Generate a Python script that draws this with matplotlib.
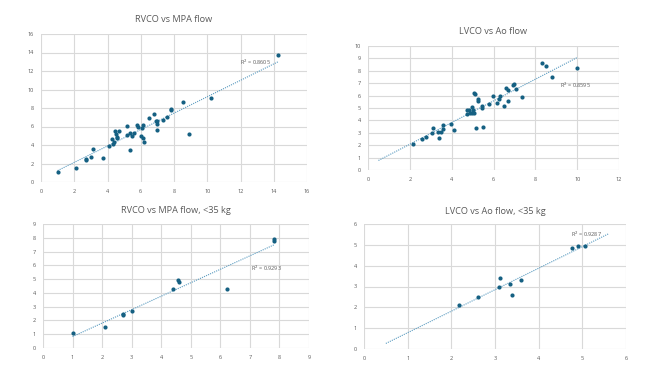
"""
Cardiac output (CO) vs phase-contrast flow — four scatter panels with
linear trendlines, laid out like the Excel original.
"""

import numpy as np
import matplotlib
matplotlib.use("Agg")
import matplotlib.pyplot as plt

plt.rcParams["font.family"] = ["Open Sans", "DejaVu Sans"]

# ── data ─────────────────────────────────────────────────────────────────────

rv_mpa_x = [1.0, 2.1, 2.7, 2.7, 3.0, 3.1, 3.7, 4.1, 4.3, 4.35, 4.4, 4.45, 4.5,
            4.55, 4.6, 4.7, 5.2, 5.2, 5.35, 5.35, 5.5, 5.6, 5.75, 5.85, 6.0,
            6.1, 6.15, 6.15, 6.2, 6.5, 6.8, 6.9, 6.95, 6.95, 6.95, 7.35, 7.55,
            7.8, 7.8, 8.55, 8.9, 10.2, 14.25]
rv_mpa_y = [1.1, 1.5, 2.4, 2.5, 2.7, 3.6, 2.6, 3.9, 4.6, 4.1, 4.3, 5.5, 5.2,
            4.9, 4.8, 5.5, 6.1, 5.1, 5.3, 3.5, 5.0, 5.3, 6.2, 6.0, 5.0,
            5.8, 6.2, 4.8, 4.3, 6.9, 7.4, 6.6, 6.6, 6.3, 5.6, 6.7, 7.0,
            7.8, 7.9, 8.6, 5.2, 9.1, 13.7]

lv_ao_x = [2.15, 2.6, 2.75, 3.05, 3.1, 3.33, 3.38, 3.5, 3.58, 3.6, 3.95, 4.1,
           4.73, 4.75, 4.85, 4.9, 4.96, 4.98, 5.02, 5.05, 5.08, 5.12, 5.15,
           5.25, 5.26, 5.45, 5.47, 5.5, 5.8, 5.96, 6.19, 6.25, 6.3, 6.52,
           6.62, 6.68, 6.71, 6.92, 6.97, 7.07, 7.35, 8.33, 8.53, 8.8, 10.0]
lv_ao_y = [2.1, 2.5, 2.7, 3.0, 3.4, 3.1, 2.6, 3.1, 3.3, 3.6, 3.7, 3.2,
           4.8, 4.5, 4.85, 4.6, 5.1, 4.6, 4.85, 4.6, 6.2, 6.1, 3.4,
           5.7, 5.6, 5.2, 5.0, 3.5, 5.3, 6.0, 5.4, 5.7, 6.0, 5.2,
           6.6, 5.6, 6.45, 6.85, 6.9, 6.5, 5.9, 8.6, 8.4, 7.5, 8.2]

rv_small_x = [1.0, 2.1, 2.7, 2.7, 3.0, 4.4, 4.57, 4.6, 6.22, 7.8, 7.82]
rv_small_y = [1.1, 1.5, 2.5, 2.4, 2.7, 4.3, 4.9, 4.8, 4.3, 7.9, 7.8]

lv_small_x = [2.17, 2.6, 3.09, 3.12, 3.34, 3.4, 3.6, 4.76, 4.89, 5.06]
lv_small_y = [2.1, 2.5, 3.0, 3.4, 3.1, 2.6, 3.3, 4.83, 4.93, 4.93]

# ── styling ──────────────────────────────────────────────────────────────────

DOT   = "#156082"
TREND = "#5A9BC0"
GRID  = "#D9D9D9"
TEXT  = "#595959"

W, H = 663, 373

panels = [
    # title, x, y, rect (px: left, top, right, bottom), xmax, xstep, ymax, ystep,
    # trend range, R² text, R² position, title y (px)
    ("RVCO vs MPA flow", rv_mpa_x, rv_mpa_y, (41, 34, 307, 182),
     16, 2, 16, 2, None, "R$^2$ = 0.8605", (12.0, 12.9), 20),
    ("LVCO vs Ao flow", lv_ao_x, lv_ao_y, (368, 46, 619, 170),
     12, 2, 10, 1, (0.5, None), "R$^2$ = 0.8595", (9.2, 6.8), 32),
    ("RVCO vs MPA flow, <35 kg", rv_small_x, rv_small_y, (43, 224, 309, 348),
     9, 1, 9, 1, None, "R$^2$ = 0.9293", (7.05, 5.8), 210),
    ("LVCO vs Ao flow, <35 kg", lv_small_x, lv_small_y, (364, 224, 626, 349),
     6, 1, 6, 1, (0.5, 5.6), "R$^2$ = 0.9287", (4.75, 5.5), 211),
]

fig = plt.figure(figsize=(W / 100, H / 100), dpi=100)

for (title, xs, ys, (l, t, r, b), xmax, xstep, ymax, ystep,
     trange, r2, r2pos, title_y) in panels:
    ax = fig.add_axes([l / W, 1 - b / H, (r - l) / W, (b - t) / H])
    xs = np.array(xs); ys = np.array(ys)

    # least-squares trendline, optionally extended like Excel's forecast
    slope, icpt = np.polyfit(xs, ys, 1)
    lo, hi = xs.min(), xs.max()
    if trange is not None:
        lo = trange[0] if trange[0] is not None else lo
        hi = trange[1] if trange[1] is not None else hi
    tx = np.array([lo, hi])
    ax.plot(tx, slope * tx + icpt, color=TREND, lw=0.8, ls=(0, (1, 1)), zorder=2)

    ax.scatter(xs, ys, s=9, color=DOT, zorder=3, linewidths=0)
    ax.text(r2pos[0], r2pos[1], r2, fontsize=4, color=TEXT, ha="left", va="center")

    ax.set_xlim(0, xmax); ax.set_ylim(0, ymax)
    ax.set_xticks(np.arange(0, xmax + 0.1, xstep))
    ax.set_yticks(np.arange(0, ymax + 0.1, ystep))
    ax.grid(color=GRID, lw=0.8)
    ax.set_axisbelow(True)
    for s in ax.spines.values():
        s.set_visible(False)
    ax.tick_params(length=0, labelsize=4, colors=TEXT, pad=5)

    cx = (l + r) / 2 / W
    fig.text(cx, 1 - title_y / H, title, ha="center", va="center",
             fontsize=6.6, color=TEXT)

fig.savefig("out.png", dpi=100)
